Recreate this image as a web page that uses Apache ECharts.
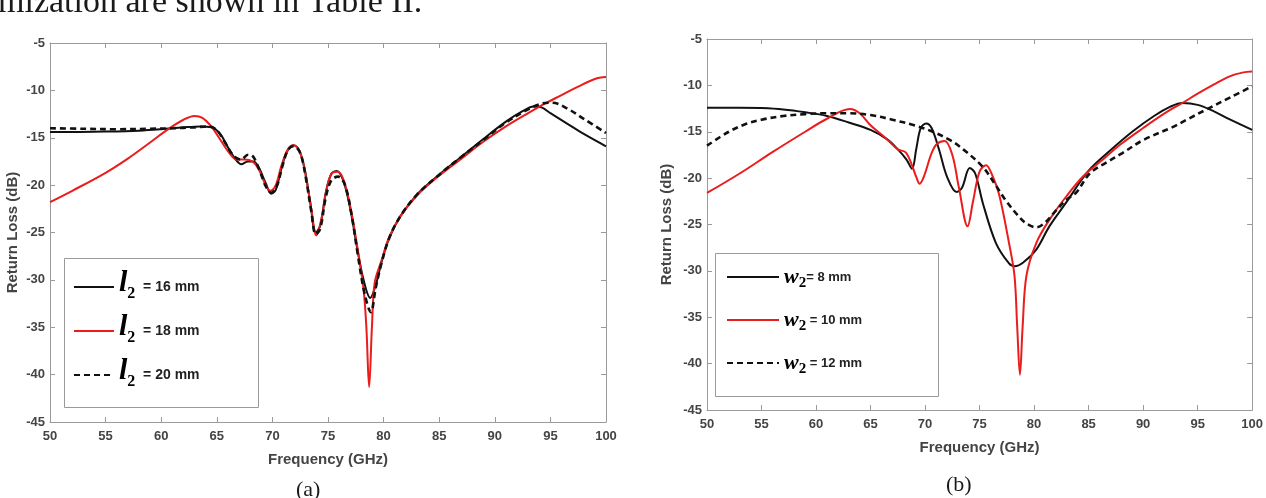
<!DOCTYPE html>
<html><head><meta charset="utf-8">
<script src="https://cdn.jsdelivr.net/npm/echarts@6/dist/echarts.min.js"></script>
<style>html,body{margin:0;padding:0;background:#fff}#c{width:1266px;height:498px}</style>
</head><body><div id="c"></div>
<script>
// ---------- tick labels ----------
const xTicks = [50, 55, 60, 65, 70, 75, 80, 85, 90, 95, 100];
const yTicks = [-45, -40, -35, -30, -25, -20, -15, -10, -5];

// ---------- panel (a): varying l2 ----------
const a16_f = [50,52,55,58,60,62,63.5,64.5,65.3,66,66.7,67.2,67.8,68.3,68.8,69.4,69.9,70.3,70.8,71.3,71.9,72.4,72.9,73.4,73.9,74.3,74.8,75.3,75.8,76.4,77,77.6,78.2,78.8,79.3,79.8,80.5,81.5,83,85,87,89,91,92.5,93.5,94.2,95,96.5,98,100];
const a16_v = [-14.4,-14.4,-14.35,-14.25,-14.1,-13.9,-13.8,-13.9,-14.6,-16.0,-17.3,-17.8,-17.5,-17.5,-18.2,-19.8,-20.9,-20.5,-18.3,-16.5,-15.8,-16.3,-18.3,-21.8,-25.0,-24.3,-20.8,-18.8,-18.5,-19.6,-22.5,-26.5,-30.0,-31.9,-30.5,-28.2,-25.6,-23.3,-21.0,-18.9,-17.0,-15.1,-13.3,-12.2,-11.7,-11.8,-12.4,-13.5,-14.6,-15.9];

const a18_f = [50,52,55,57,59,60.5,62,63,63.7,64.5,65.2,66,66.8,67.5,68.2,68.8,69.4,69.8,70.3,70.8,71.4,71.9,72.5,73,73.5,73.95,74.4,74.9,75.4,75.9,76.5,77.1,77.7,78.2,78.45,78.7,78.95,79.2,79.8,80.5,81.5,83,85,87,89,91,93,94.5,96,97.5,99,100];
const a18_v = [-21.8,-20.6,-18.7,-17.2,-15.5,-14.2,-13.1,-12.7,-12.9,-13.8,-15.0,-16.4,-17.3,-17.3,-17.5,-18.4,-20.0,-20.6,-20.0,-18.0,-16.2,-15.8,-16.6,-19.0,-22.5,-25.3,-23.6,-20.3,-18.7,-18.6,-19.8,-22.8,-27.0,-31.0,-35.0,-41.3,-35.0,-30.3,-28.0,-25.5,-23.3,-21.1,-19.0,-17.2,-15.4,-13.8,-12.4,-11.4,-10.5,-9.6,-8.8,-8.6];

const a20_f = [50,53,56,59,61,63,64.3,65,65.8,66.5,67.2,67.8,68.2,68.8,69.4,69.9,70.4,70.9,71.4,71.9,72.5,73,73.5,73.9,74.3,74.8,75.3,75.9,76.5,77.1,77.7,78.3,78.85,79.3,79.8,80.5,81.5,83,85,87,89,91,93,94.2,95.2,96.5,98,100];
const a20_v = [-14.0,-14.05,-14.1,-14.05,-14.0,-13.9,-13.8,-14.2,-15.6,-16.9,-17.3,-16.8,-16.9,-18.3,-20.1,-20.8,-20.1,-18.0,-16.3,-15.9,-16.6,-19.2,-22.8,-25.2,-24.6,-21.3,-19.5,-19.1,-19.9,-23.0,-27.5,-31.5,-33.4,-30.8,-28.3,-25.6,-23.3,-21.0,-18.9,-17.0,-15.2,-13.4,-12.0,-11.4,-11.3,-11.9,-13.0,-14.5];

// ---------- panel (b): varying w2 ----------
const b8_f = [50,53,55,57,59,61,63,65,66.5,67.5,68.3,68.8,69.2,69.6,70.1,70.6,71.3,72,72.9,73.4,74.1,74.6,75.3,76.5,77.7,78.2,79,80.2,81.4,82.9,85,87,89,91,92.5,93.6,95,96.5,98,100];
const b8_v = [-12.4,-12.4,-12.45,-12.6,-12.9,-13.3,-14.0,-14.8,-15.8,-16.9,-18.0,-19.0,-16.8,-14.6,-14.1,-14.6,-17.0,-19.8,-21.5,-21.0,-18.9,-19.5,-22.7,-27.0,-29.2,-29.5,-29.1,-27.7,-25.2,-22.7,-19.2,-17.0,-15.0,-13.3,-12.3,-11.9,-12.1,-12.8,-13.7,-14.8];

const b10_f = [50,53,56,59,61,63.1,64,65,66.5,67.5,68.2,68.7,69.2,69.5,69.9,70.6,71.1,71.8,72.5,73.1,73.9,74.4,75,75.6,76.2,76.8,77.7,78.2,78.45,78.7,78.95,79.3,80.2,81.4,83,84.5,86,88,90,92,93.6,95,96.5,98,99.2,100];
const b10_v = [-21.6,-19.5,-17.2,-15.0,-13.6,-12.55,-13.0,-14.3,-15.8,-16.9,-17.2,-18.3,-19.9,-20.6,-19.8,-17.3,-16.3,-16.0,-17.5,-21.0,-25.2,-22.5,-19.3,-18.6,-19.8,-21.8,-27.0,-30.5,-36.0,-41.2,-36.0,-30.5,-27.0,-24.5,-21.9,-19.8,-18.3,-16.3,-14.6,-13.0,-11.9,-10.9,-9.9,-9.0,-8.6,-8.5];

const b12_f = [50,52,53.5,55,57,59,61,63,65,67,69,70.5,72.3,73.5,75.3,76.5,77.4,78.5,79.3,80.2,81,82,83,83.9,85.1,86.5,88.1,90,92.7,94,95.8,98,100];
const b12_v = [-16.5,-15.0,-14.2,-13.7,-13.3,-13.1,-13.0,-13.0,-13.2,-13.7,-14.3,-14.9,-15.9,-16.9,-18.8,-20.8,-22.4,-24.0,-24.9,-25.3,-24.8,-23.5,-22.3,-21.5,-19.5,-18.4,-17.3,-15.9,-14.5,-13.7,-12.6,-11.3,-10.1];

// ---------- legend texts ----------
const legA = ['16', '18', '20'];
const legB = ['8', '10', '12'];

const pairs = (f, v) => f.map((x, i) => [x, v[i]]);

const RED = '#ea1c1c', BLACK = '#111111', GRID = '#9a9a9a', LBL = '#444444';
const tickFont = {fontFamily: 'Liberation Sans, Arial, sans-serif', fontWeight: 'bold', fontSize: 13, color: LBL};
const nameFont = {fontFamily: 'Liberation Sans, Arial, sans-serif', fontWeight: 'bold', fontSize: 15, color: LBL};

function xAx(grid, pos) {
  return {type: 'value', gridIndex: grid, position: pos, min: 50, max: 100, interval: 5,
    axisLine: {show: true, onZero: false, lineStyle: {color: GRID, width: 1}},
    axisTick: {show: true, inside: true, length: 5, lineStyle: {color: GRID}},
    axisLabel: pos === 'bottom' ? Object.assign({show: true, margin: 8}, tickFont) : {show: false},
    splitLine: {show: false},
    name: pos === 'bottom' ? 'Frequency (GHz)' : '', nameLocation: 'middle', nameGap: 30, nameTextStyle: nameFont};
}
function yAx(grid, pos, gap) {
  return {type: 'value', gridIndex: grid, position: pos, min: -45, max: -5, interval: 5,
    axisLine: {show: true, onZero: false, lineStyle: {color: GRID, width: 1}},
    axisTick: {show: true, inside: true, length: 5, lineStyle: {color: GRID}},
    axisLabel: pos === 'left' ? Object.assign({show: true, margin: 5}, tickFont) : {show: false},
    splitLine: {show: false},
    name: pos === 'left' ? 'Return Loss (dB)' : '', nameLocation: 'middle', nameRotate: 90, nameGap: gap, nameTextStyle: nameFont};
}

function ser(name, data, xi, yi, color, dashed) {
  return {type: 'line', name: name, data: data, xAxisIndex: xi, yAxisIndex: yi,
    showSymbol: false, symbol: 'none', smooth: 0.35, z: dashed ? 3 : (color === RED ? 2 : 1),
    lineStyle: {color: color, width: dashed ? 2.6 : 2, type: dashed ? [6, 4] : 'solid'},
    itemStyle: {color: color}};
}

const namesA = legA.map(m => 'l2 = ' + m + ' mm');
const namesB = legB.map(m => 'w2 = ' + m + ' mm');

const serif = 'Liberation Serif, Times New Roman, serif';
const sans = 'Liberation Sans, Arial, sans-serif';

const option = {
  backgroundColor: '#ffffff',
  animation: false,
  grid: [
    {left: 50, top: 43, width: 556, height: 379},
    {left: 707, top: 39, width: 546, height: 371}
  ],
  xAxis: [xAx(0, 'bottom'), xAx(0, 'top'), xAx(1, 'bottom'), xAx(1, 'top')],
  yAxis: [yAx(0, 'left', 30), yAx(0, 'right', 0), yAx(1, 'left', 33), yAx(1, 'right', 0)],
  legend: [
    {data: namesA, orient: 'vertical', left: 73, top: 268, padding: 0, itemWidth: 40, itemHeight: 14, itemGap: 10,
      itemStyle: {opacity: 0, borderWidth: 0},
      formatter: function (n) { const m = n.split('= ')[1]; return '{v|l}{s|2}{t|  = ' + m + '}'; },
      textStyle: {rich: {
        v: {fontFamily: serif, fontStyle: 'italic', fontWeight: 'bold', fontSize: 30, color: '#000', padding: [0, 0, 8, 0]},
        s: {fontFamily: serif, fontWeight: 'bold', fontSize: 16, color: '#000', padding: [14, 0, 0, 0]},
        t: {fontFamily: sans, fontWeight: 'bold', fontSize: 14, color: '#222'}
      }}},
    {data: namesB, orient: 'vertical', left: 726, top: 266, padding: 0, itemWidth: 52, itemHeight: 14, itemGap: 18,
      itemStyle: {opacity: 0, borderWidth: 0},
      formatter: function (n) { const m = n.split('= ')[1]; return '{v|w}{s|2}{t|' + (m === '8 mm' ? '= ' : ' = ') + m + '}'; },
      textStyle: {rich: {
        v: {fontFamily: serif, fontStyle: 'italic', fontWeight: 'bold', fontSize: 22, color: '#000'},
        s: {fontFamily: serif, fontWeight: 'bold', fontSize: 15, color: '#000', padding: [13, 0, 0, 0]},
        t: {fontFamily: sans, fontWeight: 'bold', fontSize: 13, color: '#222'}
      }}}
  ],
  graphic: [
    {type: 'rect', shape: {x: 64.5, y: 258.5, width: 194, height: 149}, style: {fill: '#fff', stroke: GRID, lineWidth: 1}, z: 0},
    {type: 'rect', shape: {x: 715.5, y: 253.5, width: 223, height: 143}, style: {fill: '#fff', stroke: GRID, lineWidth: 1}, z: 0},
    {type: 'text', left: -2, top: -14, style: {text: 'mization are shown in Table II.', font: '34px ' + serif, fill: '#1a1a1a'}},
    {type: 'text', left: 296, top: 479, style: {text: '(a)', font: '22px ' + serif, fill: '#1a1a1a'}},
    {type: 'text', left: 946, top: 474, style: {text: '(b)', font: '22px ' + serif, fill: '#1a1a1a'}}
  ],
  series: [
    ser(namesA[0], pairs(a16_f, a16_v), 0, 0, BLACK, false),
    ser(namesA[1], pairs(a18_f, a18_v), 0, 0, RED, false),
    ser(namesA[2], pairs(a20_f, a20_v), 0, 0, BLACK, true),
    ser(namesB[0], pairs(b8_f, b8_v), 2, 2, BLACK, false),
    ser(namesB[1], pairs(b10_f, b10_v), 2, 2, RED, false),
    ser(namesB[2], pairs(b12_f, b12_v), 2, 2, BLACK, true)
  ]
};
const chart = echarts.init(document.getElementById('c'), null, {renderer: 'canvas'});
chart.setOption(option);
</script></body></html>
